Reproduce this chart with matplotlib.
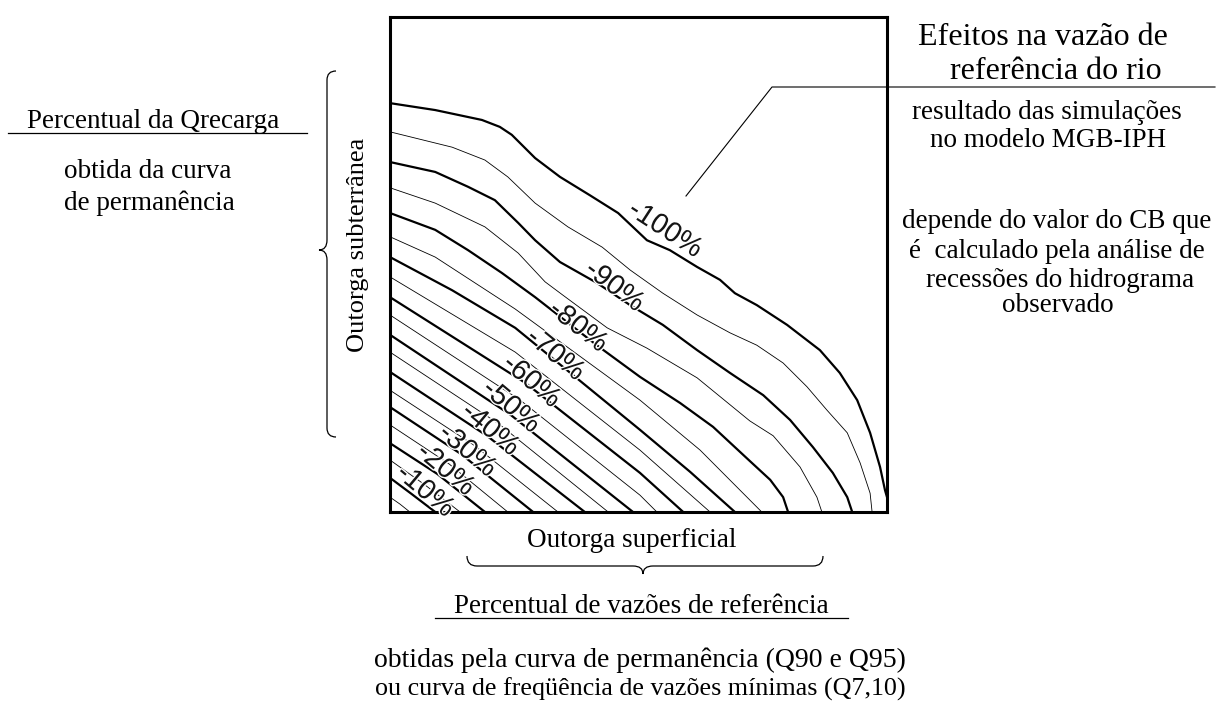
import matplotlib
matplotlib.use("Agg")
import matplotlib.pyplot as plt
from matplotlib.path import Path
from matplotlib.patches import PathPatch
import matplotlib.patheffects as pe

# ---------------- data (percent of each axis) ----------------
LEVELS = [-5, -10, -15, -20, -25, -30, -35, -40, -45, -50,
          -55, -60, -65, -70, -75, -80, -85, -90, -95, -100]

L005_X = [0, 2.0, 4.0]
L005_Y = [3.0, 1.6, 0]
L010_X = [0, 4.4, 9.1]
L010_Y = [6.9, 3.6, 0]
L015_X = [0, 7.0, 14.1]
L015_Y = [10.5, 5.5, 0]
L020_X = [0, 9.5, 19.1]
L020_Y = [13.9, 7.7, 0]
L025_X = [0, 11.9, 23.7]
L025_Y = [17.6, 9.7, 0]
L030_X = [0, 14.3, 28.8]
L030_Y = [21.2, 11.7, 0]
L035_X = [0, 16.9, 33.8]
L035_Y = [24.6, 13.5, 0]
L040_X = [0, 19.5, 39.2]
L040_Y = [28.3, 15.4, 0]
L045_X = [0, 21.9, 43.9]
L045_Y = [32.3, 17.8, 0]
L050_X = [0, 24.3, 48.9]
L050_Y = [35.8, 19.6, 0]
L055_X = [0, 26.2, 50.3, 53.7]
L055_Y = [39.8, 22.6, 3.4, 0]
L060_X = [0, 27.2, 50.3, 59.0]
L060_Y = [43.4, 26.1, 7.9, 0]
L065_X = [0, 25.2, 50.3, 64.4]
L065_Y = [47.5, 32.3, 12.5, 0]
L070_X = [0, 12.5, 25.2, 50.3, 60.4, 69.4]
L070_Y = [51.5, 44.8, 37.2, 16.6, 8.1, 0]
L075_X = [0, 9.1, 25.2, 50.3, 62.4, 74.8]
L075_Y = [55.6, 51.5, 41.0, 22.6, 12.5, 0]
L080_X = [0, 9.1, 15.7, 22.5, 29.2, 41.6, 50.3, 58.4, 65.0, 72.4, 76.5, 79.1, 80.1]
L080_Y = [60.4, 57.0, 52.9, 48.3, 43.4, 33.7, 27.3, 22.0, 17.2, 10.3, 6.5, 3.0, 0]
L085_X = [0, 9.1, 19.1, 25.8, 31.2, 34.8, 43.7, 51.7, 61.8, 72.4, 77.1, 82.5, 85.9, 86.9]
L085_Y = [65.5, 62.4, 57.6, 52.3, 46.5, 43.8, 37.2, 33.1, 27.1, 18.4, 15.4, 9.1, 3.0, 0]
L090_X = [0, 9.1, 15.7, 21.1, 25.8, 29.2, 34.2, 41.6, 48.3, 54.9, 61.8, 68.4, 75.1, 80.5, 85.1, 89.1, 92.0, 93.0]
L090_Y = [70.7, 68.7, 65.7, 63.0, 58.4, 54.9, 50.5, 46.3, 41.8, 37.8, 32.7, 28.1, 23.6, 18.6, 13.1, 7.9, 3.0, 0]
L095_X = [0, 12.5, 19.1, 23.7, 29.2, 35.8, 42.7, 48.3, 54.9, 61.8, 68.4, 73.8, 79.1, 83.9, 87.9, 92.0, 94.6, 96.6, 97.0]
L095_Y = [76.8, 73.7, 71.1, 67.7, 62.4, 57.6, 53.5, 48.9, 44.2, 39.8, 36.2, 33.7, 30.1, 25.3, 20.6, 16.0, 9.9, 3.8, 0]
L100_X = [0, 9.1, 18.5, 22.1, 24.5, 27.0, 29.2, 34.2, 40.2, 45.9, 51.7, 56.3, 61.8, 66.4, 69.4, 73.8, 79.9, 86.5, 90.5, 94.0, 96.6, 98.6, 99.6, 100]
L100_Y = [82.6, 81.2, 79.2, 77.8, 76.2, 73.7, 71.5, 67.7, 64.0, 60.4, 54.9, 52.9, 49.5, 46.9, 44.2, 41.8, 37.8, 32.7, 28.1, 22.6, 16.0, 9.1, 4.4, 3.0]

LINES_X = [L005_X, L010_X, L015_X, L020_X, L025_X, L030_X, L035_X, L040_X, L045_X, L050_X,
           L055_X, L060_X, L065_X, L070_X, L075_X, L080_X, L085_X, L090_X, L095_X, L100_X]
LINES_Y = [L005_Y, L010_Y, L015_Y, L020_Y, L025_Y, L030_Y, L035_Y, L040_Y, L045_Y, L050_Y,
           L055_Y, L060_Y, L065_Y, L070_Y, L075_Y, L080_Y, L085_Y, L090_Y, L095_Y, L100_Y]

LABEL_TEXT = ["-10%", "-20%", "-30%", "-40%", "-50%", "-60%", "-70%", "-80%", "-90%", "-100%"]
LABEL_X = [7.0, 11.1, 15.5, 20.1, 24.3, 28.4, 33.2, 37.8, 45.1, 55.3]
LABEL_Y = [4.2, 8.5, 12.3, 16.6, 21.2, 26.3, 31.7, 37.4, 45.5, 57.0]
LABEL_ROT = [-40, -40, -40, -40, -40, -40, -39, -38, -37, -33]

# ---------------- figure ----------------
W, H = 1218, 702
fig = plt.figure(figsize=(W / 100, H / 100), dpi=100)
fig.patch.set_facecolor("white")

ax = fig.add_axes([390 / W, (H - 512) / H, 497 / W, 495 / H])
ax.set_xlim(0, 100)
ax.set_ylim(0, 100)
ax.set_xticks([])
ax.set_yticks([])
for s in ax.spines.values():
    s.set_linewidth(2.2)
    s.set_color("black")

for lev, xs, ys in zip(LEVELS, LINES_X, LINES_Y):
    thick = (lev % 10 == 0)
    ax.plot(xs, ys, color="black", lw=1.6 if thick else 0.6,
            solid_joinstyle="round", clip_on=True)

for t, x, y, r in zip(LABEL_TEXT, LABEL_X, LABEL_Y, LABEL_ROT):
    ax.text(x, y, t, rotation=r, rotation_mode="anchor", ha="center", va="center",
            fontsize=20.5, family="Liberation Sans", color="#151515", clip_on=False,
            path_effects=[pe.withStroke(linewidth=2.0, foreground="white")])

# ---------------- annotation overlay (pixel coordinates) ----------------
ov = fig.add_axes([0, 0, 1, 1])
ov.set_xlim(0, W)
ov.set_ylim(H, 0)
ov.axis("off")
ov.patch.set_visible(False)

serif = "Liberation Serif"
fs = 19.5

def txt(x, y, s, size=fs, **kw):
    ov.text(x, y, s, fontsize=size, family=serif, ha="center", va="baseline", **kw)

# left block
txt(153, 128, "Percentual da Qrecarga")
ov.plot([8, 307], [133, 133], color="black", lw=0.9)
txt(148, 178, "obtida da curva")
txt(149, 210, "de permanência")
ov.text(358, 245, "Outorga subterrânea", fontsize=19, family=serif, rotation=90,
        ha="center", va="center")

# bottom block
txt(632, 547, "Outorga superficial")
txt(641, 613, "Percentual de vazões de referência")
ov.plot([435, 848], [618, 618], color="black", lw=0.9)
txt(640, 667, "obtidas pela curva de permanência (Q90 e Q95)", size=20)
txt(640, 696, "ou curva de freqüência de vazões mínimas (Q7,10)", size=18.7)

# right block
txt(1043, 45, "Efeitos na vazão de", size=23)
txt(1056, 79, "referência do rio", size=23)
ov.plot([686, 772, 1215], [196, 87, 87], color="black", lw=0.8)
txt(1047, 119, "resultado das simulações")
txt(1048, 147, "no modelo MGB-IPH")
txt(1057, 228, "depende do valor do CB que")
txt(1057, 258, "é  calculado pela análise de")
txt(1060, 287, "recessões do hidrograma")
txt(1058, 312, "observado")

# braces
C3, L, M = Path.CURVE3, Path.LINETO, Path.MOVETO
left_brace = Path(
    [(336, 71), (327, 71), (327, 80), (327, 240), (327, 250), (319, 250),
     (327, 250), (327, 260), (327, 428), (327, 437), (336, 437)],
    [M, C3, C3, L, C3, C3, C3, C3, L, C3, C3])
ov.add_patch(PathPatch(left_brace, fill=False, lw=0.9, edgecolor="black"))
bottom_brace = Path(
    [(467, 556), (467, 566), (477, 566), (633, 566), (643, 566), (643, 574),
     (643, 566), (653, 566), (813, 566), (823, 566), (823, 556)],
    [M, C3, C3, L, C3, C3, C3, C3, L, C3, C3])
ov.add_patch(PathPatch(bottom_brace, fill=False, lw=0.9, edgecolor="black"))

fig.savefig("out.png", dpi=100, facecolor="white")
